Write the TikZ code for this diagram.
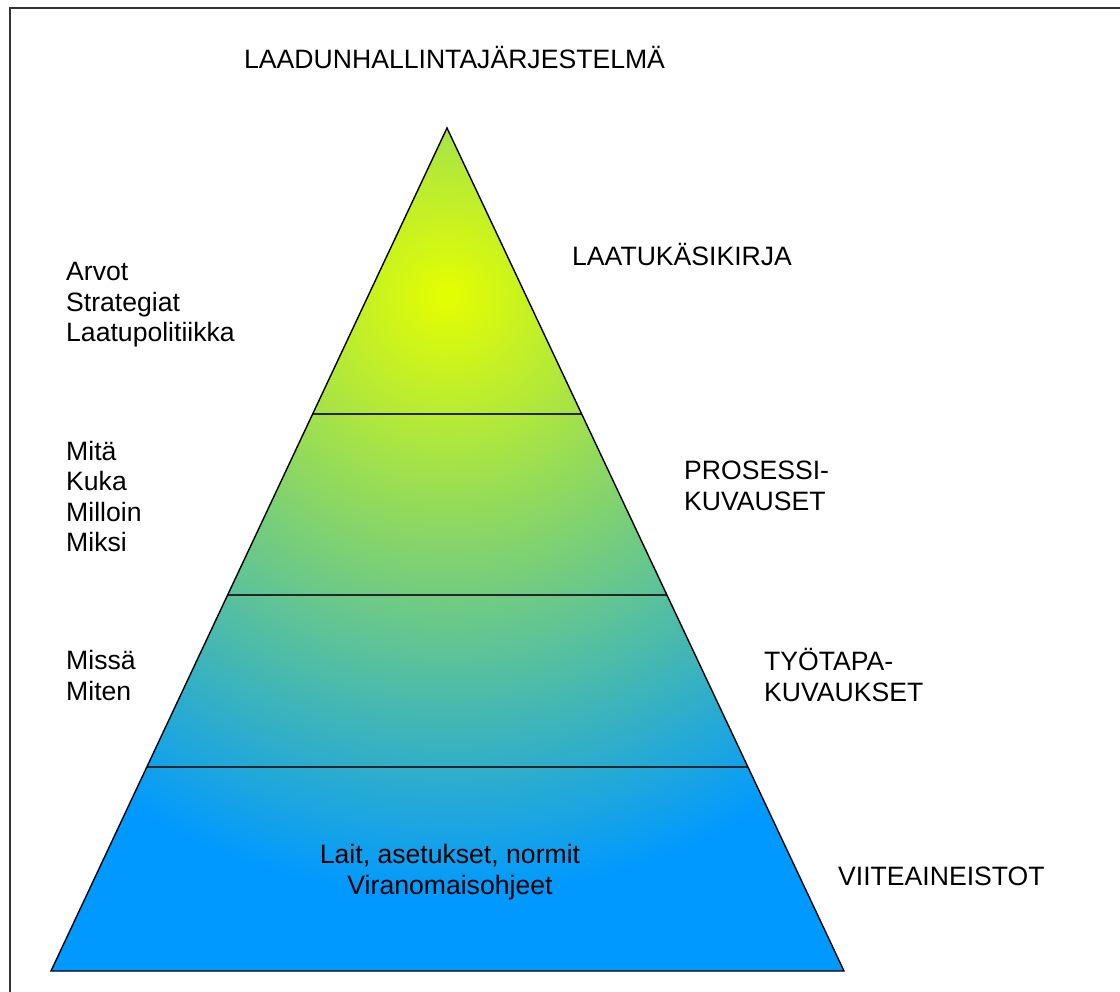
\documentclass[tikz,border=0pt]{standalone}
\usepackage{fontspec}
\setmainfont{Liberation Sans}
\usetikzlibrary{calc}
\definecolor{topc}{HTML}{E5FF00}
\definecolor{botc}{HTML}{0099FF}
\definecolor{framec}{HTML}{333333}
\pgfdeclareradialshading{pyrshade}{\pgfpoint{0bp}{0bp}}{color(0bp)=(topc); color(600bp)=(botc)}
\begin{document}
\begin{tikzpicture}[x=1pt,y=-1pt,
  lbl/.style={font=\fontsize{26.6}{30.5}\selectfont, inner sep=0pt, align=left, anchor=base west},
  clbl/.style={font=\fontsize{26.6}{30.5}\selectfont, inner sep=0pt, align=center, anchor=base},
  divider/.style={draw=black!85, line width=1.4pt},
  outline/.style={draw=black, line width=1.4pt, line join=miter},
  frame/.style={draw=framec, line width=1.6pt}]
\useasboundingbox (0,0) rectangle (1120,992);
\coordinate (fa) at (10,992);
\coordinate (fb) at (10,8);
\coordinate (fc) at (1120,8);
\draw[frame] (fa) -- (fb) -- (fc);
\coordinate (apex) at (447,128);
\coordinate (bl) at (51,971);
\coordinate (br) at (844,971);
\coordinate (gc) at (447,295);
\begin{scope}
  \clip (apex) -- (bl) -- (br) -- cycle;
  \fill[botc] (0,0) rectangle (1120,992);
  \node[inner sep=0pt, outer sep=0pt] (shd) at (gc) {\pgfuseshading{pyrshade}};
\end{scope}
\coordinate (d1l) at ($(apex)!0.3393!(bl)$);
\coordinate (d1r) at ($(apex)!0.3393!(br)$);
\coordinate (d2l) at ($(apex)!0.554!(bl)$);
\coordinate (d2r) at ($(apex)!0.554!(br)$);
\coordinate (d3l) at ($(apex)!0.758!(bl)$);
\coordinate (d3r) at ($(apex)!0.758!(br)$);
\draw[divider] (d1l) -- (d1r);
\draw[divider] (d2l) -- (d2r);
\draw[divider] (d3l) -- (d3r);
\draw[outline] (apex) -- (bl) -- (br) -- cycle;
\node[lbl] (title) at (244,69) {LAADUNHALLINTAJÄRJESTELMÄ};
\node[lbl] (l1) at (66,342) {Arvot\\Strategiat\\Laatupolitiikka};
\node[lbl] (r1) at (572,266) {LAATUKÄSIKIRJA};
\node[lbl] (l2) at (66,551.5) {Mitä\\Kuka\\Milloin\\Miksi};
\node[lbl] (r2) at (684,510) {PROSESSI-\\KUVAUSET};
\node[lbl] (l3) at (66,700) {Missä\\Miten};
\node[lbl] (r3) at (764,701) {TYÖTAPA-\\KUVAUKSET};
\node[clbl] (c4) at (450,894) {Lait, asetukset, normit\\Viranomaisohjeet};
\node[lbl] (r4) at (838,885) {VIITEAINEISTOT};
\end{tikzpicture}
\end{document}
